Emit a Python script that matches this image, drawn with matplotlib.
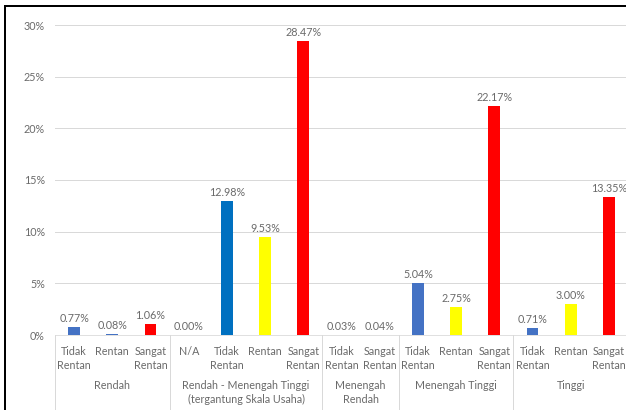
import matplotlib
matplotlib.use("Agg")
import matplotlib.pyplot as plt
from matplotlib.lines import Line2D
from matplotlib.ticker import FuncFormatter

# Risk-level groups and the vulnerability classes inside each group
groups = [
    "Rendah",
    "Rendah - Menengah Tinggi\n(tergantung Skala Usaha)",
    "Menengah\nRendah",
    "Menengah Tinggi",
    "Tinggi",
]
subcats = [
    ["Tidak\nRentan", "Rentan", "Sangat\nRentan"],
    ["N/A", "Tidak\nRentan", "Rentan", "Sangat\nRentan"],
    ["Tidak\nRentan", "Sangat\nRentan"],
    ["Tidak\nRentan", "Rentan", "Sangat\nRentan"],
    ["Tidak\nRentan", "Rentan", "Sangat\nRentan"],
]
values = [
    [0.77, 0.08, 1.06],
    [0.00, 12.98, 9.53, 28.47],
    [0.03, 0.04],
    [5.04, 2.75, 22.17],
    [0.71, 3.00, 13.35],
]
bar_colors = [
    ["#4472C4", "#4472C4", "#FF0000"],
    ["#4472C4", "#0070C0", "#FFFF00", "#FF0000"],
    ["#4472C4", "#FF0000"],
    ["#4472C4", "#FFFF00", "#FF0000"],
    ["#4472C4", "#FFFF00", "#FF0000"],
]

W, H, DPI = 626, 410, 72
plt.rcParams["font.family"] = ["Lato", "DejaVu Sans"]
TXT = "#6A6A6A"
GRID = "#D9D9D9"
FS = 10.8

fig = plt.figure(figsize=(W / DPI, H / DPI), dpi=DPI)
x0, x1, ytop, ybot = 55, 626, 25, 335
ax = fig.add_axes([x0 / W, 1 - ybot / H, (x1 - x0) / W, (ybot - ytop) / H])

slot = 38.2
ax.set_xlim(-0.5, -0.5 + (x1 - x0) / slot)
ax.set_ylim(0, 30)

pos = 0
bounds = [-0.5]
centers = []
for g, subs, vals, cols in zip(groups, subcats, values, bar_colors):
    start = pos
    for s, v, c in zip(subs, vals, cols):
        ax.bar(pos, v, width=0.31, color=c, zorder=3)
        ax.annotate(f"{v:.2f}%", (pos, v), xytext=(0, 3), textcoords="offset points",
                    ha="center", va="bottom", fontsize=FS, color=TXT)
        ax.annotate(s, (pos, 0), xycoords=("data", "axes fraction"), xytext=(0, -11),
                    textcoords="offset points", ha="center", va="top", fontsize=FS,
                    color=TXT, linespacing=1.3)
        pos += 1
    centers.append((start + pos - 1) / 2)
    bounds.append(pos - 0.5)

for g, c in zip(groups, centers):
    ax.annotate(g, (c, 0), xycoords=("data", "axes fraction"), xytext=(0, -45),
                textcoords="offset points", ha="center", va="top", fontsize=FS,
                color=TXT, linespacing=1.3)

# separators between groups below the axis
for b in bounds:
    ax.add_line(Line2D([b, b], [0, -(H - ybot) / (ybot - ytop)],
                       transform=ax.get_xaxis_transform(), color=GRID, lw=1,
                       clip_on=False))

ax.set_yticks(range(0, 31, 5))
ax.yaxis.set_major_formatter(FuncFormatter(lambda v, _: f"{v:.0f}%"))
ax.tick_params(axis="y", length=0, pad=10, labelsize=FS, labelcolor=TXT)
ax.set_xticks([])
ax.grid(axis="y", color=GRID, lw=1, zorder=0)
for side in ["top", "right", "left"]:
    ax.spines[side].set_visible(False)
ax.spines["bottom"].set_color(GRID)

# frame lines on the top and left edges
fig.add_artist(Line2D([5 / W, 1], [1 - 6 / H, 1 - 6 / H], transform=fig.transFigure,
                      color="black", lw=2))
fig.add_artist(Line2D([5 / W, 5 / W], [0, 1 - 6 / H], transform=fig.transFigure,
                      color="black", lw=2))

fig.savefig("out.png", dpi=DPI)
